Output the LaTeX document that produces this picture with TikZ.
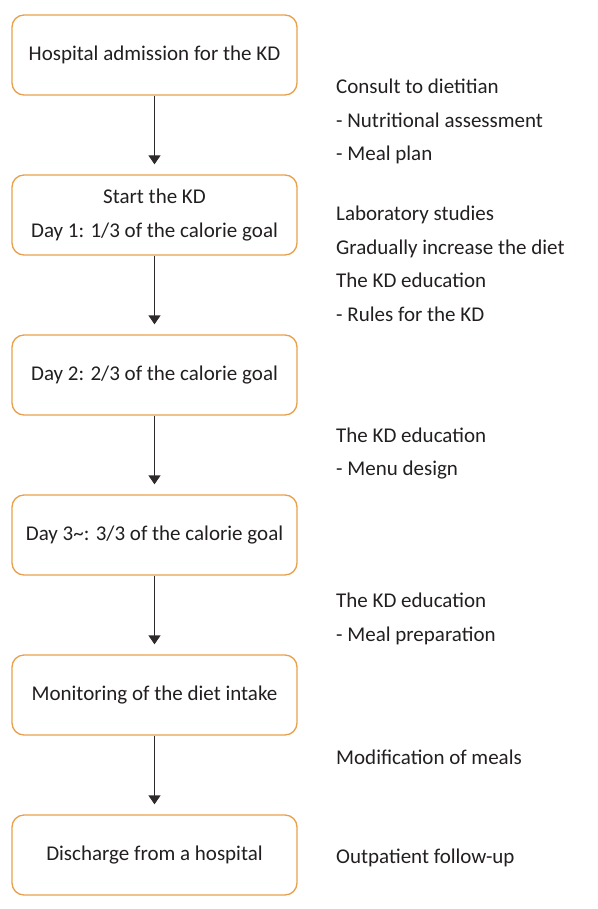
\documentclass[tikz,border=0pt]{standalone}
\usepackage{fontspec}
\setmainfont{Carlito}
\usepackage{xcolor}
\usepackage{tikz}
\usetikzlibrary{arrows.meta}
\definecolor{orangeline}{HTML}{E9A04A}
\definecolor{textgray}{HTML}{231F20}
\definecolor{arrowgray}{HTML}{2E2A2B}
\tikzset{
  stepbox/.style={draw=orangeline, line width=1.3pt, rounded corners=12pt, fill=white, align=center,
    minimum width=285pt, minimum height=80pt, inner sep=0pt, text=textgray},
  note/.style={anchor=west, align=left, inner sep=0pt, text=textgray},
  arrow/.style={-{Triangle[length=9pt, width=12pt]}, line width=1.3pt, draw=arrowgray, shorten >=10pt}
}

\begin{document}
\begin{tikzpicture}[x=1pt, y=-1pt, font=\fontsize{21}{33.5}\selectfont]
  \useasboundingbox (0,0) rectangle (597,909);

  \node[stepbox] (adm) at (154.5,55) {Hospital admission for the KD};
  \node[stepbox] (start) at (154.5,215) {Start the KD\\Day 1: 1/3 of the calorie goal};
  \node[stepbox] (day2) at (154.5,375) {Day 2: 2/3 of the calorie goal};
  \node[stepbox] (day3) at (154.5,535) {Day 3\textasciitilde: 3/3 of the calorie goal};
  \node[stepbox] (monit) at (154.5,695) {Monitoring of the diet intake};
  \node[stepbox] (disch) at (154.5,855) {Discharge from a hospital};

  \node[note] (consult) at (336,121.5) {Consult to dietitian\\- Nutritional assessment\\- Meal plan};
  \node[note] (lab) at (336,264) {Laboratory studies\\Gradually increase the diet\\The KD education\\- Rules for the KD};
  \node[note] (menu) at (336,453.5) {The KD education\\- Menu design};
  \node[note] (prep) at (336,619) {The KD education\\- Meal preparation};
  \node[note] (modif) at (336,757) {Modification of meals};
  \node[note] (follow) at (336,858) {Outpatient follow-up};

  \foreach \a/\b in {adm/start,start/day2,day2/day3,day3/monit,monit/disch} {
    \draw[arrow] (\a) -- (\b);
  }
\end{tikzpicture}
\end{document}
